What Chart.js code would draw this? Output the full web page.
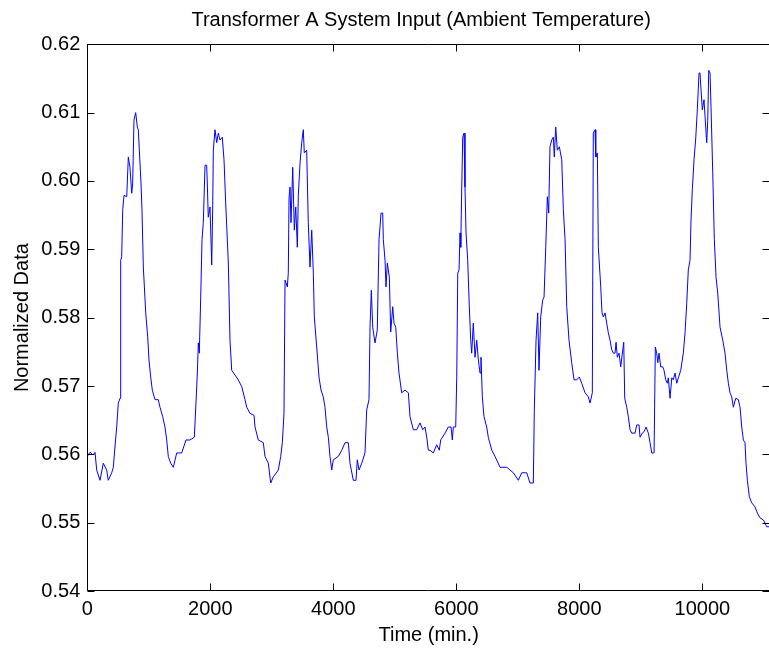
<!DOCTYPE html>
<html>
<head>
<meta charset="utf-8">
<script src="https://cdn.jsdelivr.net/npm/chart.js@4.4.1/dist/chart.umd.min.js"></script>
<style>
  html, body { margin: 0; padding: 0; background: #fff; overflow: hidden; }
  #wrap { width: 775px; height: 651px; }
</style>
</head>
<body>
<div id="wrap"><canvas id="myChart" width="775" height="651"></canvas></div>
<script>
const chartTitle = "Transformer A System Input (Ambient Temperature)"
const xTitle = "Time (min.)"
const yTitle = "Normalized Data"

const xTicks = [0, 2000, 4000, 6000, 8000, 10000]
const yTicks = [0.54, 0.55, 0.56, 0.57, 0.58, 0.59, 0.6, 0.61, 0.62]

// time (min.) and normalized value
const times = [
  0, 44, 93, 125, 153, 207, 260, 315, 341, 397,
  423, 450, 478, 504, 532, 543, 559, 576, 597, 641,
  667, 694, 722, 738, 759, 787, 813, 829, 846, 873,
  889, 911, 950, 982, 1003, 1031, 1057, 1101, 1154, 1182,
  1226, 1263, 1291, 1317, 1356, 1398, 1454, 1535, 1605, 1670,
  1740, 1767, 1789, 1805, 1821, 1844, 1865, 1886, 1914, 1941,
  1951, 1967, 1995, 2023, 2039, 2049, 2076, 2104, 2130, 2158,
  2195, 2223, 2250, 2293, 2320, 2348, 2402, 2455, 2511, 2564,
  2592, 2645, 2711, 2727, 2780, 2862, 2889, 2943, 2982, 3024,
  3106, 3145, 3171, 3198, 3215, 3252, 3268, 3280, 3296, 3312,
  3340, 3366, 3389, 3415, 3431, 3459, 3486, 3512, 3528, 3567,
  3593, 3621, 3649, 3675, 3691, 3730, 3767, 3800, 3837, 3865,
  3893, 3919, 3946, 3974, 4000, 4081, 4137, 4190, 4244, 4271,
  4325, 4369, 4390, 4418, 4462, 4515, 4543, 4580, 4597, 4618,
  4641, 4678, 4715, 4743, 4776, 4803, 4813, 4841, 4857, 4878,
  4911, 4933, 4966, 4987, 5015, 5041, 5068, 5112, 5166, 5220,
  5247, 5301, 5356, 5410, 5454, 5491, 5519, 5545, 5572, 5626,
  5681, 5723, 5746, 5816, 5870, 5914, 5935, 5951, 5990, 6007,
  6023, 6044, 6060, 6072, 6088, 6104, 6125, 6141, 6158, 6185,
  6211, 6234, 6250, 6276, 6304, 6332, 6358, 6385, 6401, 6423,
  6450, 6494, 6520, 6576, 6629, 6711, 6820, 6873, 6927, 7008,
  7063, 7145, 7198, 7252, 7268, 7296, 7323, 7344, 7372, 7405,
  7426, 7454, 7480, 7502, 7523, 7551, 7577, 7593, 7616, 7642,
  7675, 7714, 7740, 7768, 7795, 7832, 7876, 7914, 7958, 8000,
  8039, 8093, 8146, 8174, 8211, 8227, 8255, 8267, 8293, 8309,
  8348, 8369, 8390, 8418, 8445, 8471, 8499, 8527, 8553, 8580,
  8597, 8618, 8646, 8673, 8706, 8722, 8738, 8771, 8797, 8824,
  8852, 8906, 8933, 8971, 8987, 9024, 9052, 9085, 9122, 9150,
  9177, 9215, 9236, 9258, 9275, 9296, 9323, 9356, 9377, 9405,
  9431, 9447, 9475, 9503, 9528, 9556, 9584, 9610, 9649, 9691,
  9719, 9746, 9772, 9800, 9816, 9837, 9865, 9893, 9918, 9946,
  9962, 9979, 10000, 10027, 10044, 10071, 10088, 10104, 10125, 10141,
  10169, 10195, 10223, 10250, 10288, 10332, 10369, 10397, 10423, 10450,
  10478, 10504, 10543, 10585, 10613, 10640, 10667, 10694, 10710, 10732,
  10764, 10803, 10857, 10894, 10938, 10992, 11047, 11084
]
const values = [
  0.5597, 0.5603, 0.5599, 0.5603, 0.5577, 0.5562, 0.5587, 0.5577, 0.5562, 0.5573,
  0.5581, 0.5611, 0.5640, 0.5675, 0.5682, 0.5884, 0.5889, 0.5958, 0.5979, 0.5977,
  0.6035, 0.6020, 0.5982, 0.5997, 0.6089, 0.6100, 0.6079, 0.6075, 0.6045, 0.5997,
  0.5958, 0.5874, 0.5807, 0.5772, 0.5738, 0.5713, 0.5694, 0.5680, 0.5680, 0.5669,
  0.5655, 0.5640, 0.5621, 0.5597, 0.5587, 0.5581, 0.5602, 0.5602, 0.5621, 0.5621,
  0.5625, 0.5675, 0.5719, 0.5763, 0.5748, 0.5830, 0.5914, 0.5939, 0.6023, 0.6023,
  0.5997, 0.5947, 0.5962, 0.5877, 0.5962, 0.6045, 0.6075, 0.6056, 0.6070, 0.6060,
  0.6064, 0.6031, 0.5968, 0.5880, 0.5767, 0.5723, 0.5716, 0.5709, 0.5699, 0.5680,
  0.5669, 0.5660, 0.5657, 0.5640, 0.5621, 0.5617, 0.5597, 0.5587, 0.5558, 0.5567,
  0.5577, 0.5597, 0.5617, 0.5660, 0.5855, 0.5845, 0.5865, 0.5975, 0.5991, 0.5939,
  0.6020, 0.5928, 0.5962, 0.5903, 0.5979, 0.6026, 0.6056, 0.6075, 0.6041, 0.6045,
  0.5939, 0.5874, 0.5928, 0.5865, 0.5801, 0.5757, 0.5713, 0.5694, 0.5684, 0.5669,
  0.5640, 0.5625, 0.5597, 0.5577, 0.5592, 0.5597, 0.5606, 0.5617, 0.5617, 0.5587,
  0.5562, 0.5562, 0.5592, 0.5577, 0.5587, 0.5602, 0.5665, 0.5680, 0.5786, 0.5840,
  0.5786, 0.5763, 0.5782, 0.5914, 0.5953, 0.5953, 0.5914, 0.5884, 0.5845, 0.5880,
  0.5859, 0.5779, 0.5816, 0.5792, 0.5786, 0.5748, 0.5719, 0.5690, 0.5694, 0.5690,
  0.5655, 0.5636, 0.5636, 0.5646, 0.5636, 0.5640, 0.5625, 0.5606, 0.5606, 0.5602,
  0.5614, 0.5606, 0.5621, 0.5631, 0.5640, 0.5640, 0.5621, 0.5640, 0.5640, 0.5713,
  0.5865, 0.5870, 0.5924, 0.5903, 0.5991, 0.6064, 0.6070, 0.5991, 0.5924, 0.5884,
  0.5816, 0.5767, 0.5748, 0.5792, 0.5742, 0.5767, 0.5738, 0.5719, 0.5742, 0.5684,
  0.5655, 0.5640, 0.5625, 0.5606, 0.5597, 0.5581, 0.5581, 0.5577, 0.5573, 0.5562,
  0.5573, 0.5573, 0.5558, 0.5558, 0.5665, 0.5767, 0.5807, 0.5723, 0.5801, 0.5826,
  0.5830, 0.5903, 0.5977, 0.5953, 0.6050, 0.6060, 0.6064, 0.6035, 0.6079, 0.6045,
  0.6050, 0.6031, 0.5958, 0.5914, 0.5816, 0.5767, 0.5734, 0.5709, 0.5709, 0.5713,
  0.5704, 0.5690, 0.5684, 0.5675, 0.5690, 0.6070, 0.6075, 0.6035, 0.6041, 0.5903,
  0.5845, 0.5807, 0.5801, 0.5807, 0.5792, 0.5778, 0.5767, 0.5753, 0.5748, 0.5748,
  0.5764, 0.5742, 0.5748, 0.5728, 0.5753, 0.5764, 0.5682, 0.5669, 0.5655, 0.5636,
  0.5631, 0.5631, 0.5643, 0.5643, 0.5625, 0.5631, 0.5633, 0.5640, 0.5631, 0.5617,
  0.5602, 0.5602, 0.5757, 0.5748, 0.5734, 0.5748, 0.5728, 0.5728, 0.5723, 0.5709,
  0.5704, 0.5712, 0.5682, 0.5712, 0.5709, 0.5719, 0.5704, 0.5712, 0.5723, 0.5748,
  0.5778, 0.5821, 0.5870, 0.5884, 0.5943, 0.5987, 0.6031, 0.6063, 0.6104, 0.6158,
  0.6158, 0.6133, 0.6104, 0.6119, 0.6094, 0.6056, 0.6089, 0.6162, 0.6158, 0.6108,
  0.6012, 0.5914, 0.5859, 0.5836, 0.5786, 0.5767, 0.5748, 0.5723, 0.5704, 0.5690,
  0.5684, 0.5669, 0.5682, 0.5680, 0.5669, 0.5640, 0.5621, 0.5617, 0.5587, 0.5562,
  0.5538, 0.5529, 0.5523, 0.5514, 0.5507, 0.5504, 0.5494, 0.5494
]

if (times.length !== values.length) console.error("length mismatch", times.length, values.length)

const points = times.map((t, i) => ({ x: t, y: values[i] }))

// matlab style box with inward ticks
const boxPlugin = {
  id: 'box',
  afterLayout(chart) {
    // centre the title over the axes like matlab does
    const tb = chart.titleBlock
    if (tb) { tb.left = chart.chartArea.left; tb.right = 755 }
  },
  afterDraw(chart) {
    const ctx = chart.ctx
    const a = chart.chartArea
    const xs = chart.scales.x
    const ys = chart.scales.y
    const L = Math.round(a.left) + 0.5
    const R = Math.round(a.right) - 0.5
    const T = Math.round(a.top) + 0.5
    const B = Math.round(a.bottom) - 0.5
    const len = 7
    ctx.save()
    ctx.strokeStyle = '#000'
    ctx.lineWidth = 1
    ctx.beginPath()
    ctx.rect(L, T, R - L, B - T)
    xTicks.forEach(v => {
      const px = Math.round(xs.getPixelForValue(v)) + 0.5
      ctx.moveTo(px, B); ctx.lineTo(px, B - len)
      ctx.moveTo(px, T); ctx.lineTo(px, T + len)
    })
    yTicks.forEach(v => {
      const py = Math.round(ys.getPixelForValue(v)) + 0.5
      ctx.moveTo(L, py); ctx.lineTo(L + len, py)
      ctx.moveTo(R, py); ctx.lineTo(R - len, py)
    })
    ctx.stroke()
    ctx.restore()
  }
}

Chart.defaults.font.family = '"Liberation Sans", Arial, Helvetica, sans-serif'
Chart.defaults.font.size = 20
Chart.defaults.color = '#000'

const config = {
  type: 'line',
  data: {
    datasets: [{
      data: points,
      borderColor: 'rgb(0,0,255)',
      borderWidth: 1,
      pointRadius: 0,
      tension: 0,
      fill: false
    }]
  },
  options: {
    responsive: false,
    animation: false,
    layout: { padding: { left: 0, right: 5, top: 0, bottom: 0 } },
    plugins: {
      legend: { display: false },
      tooltip: { enabled: false },
      title: {
        display: true,
        text: chartTitle,
        color: '#000',
        font: { size: 20, weight: 'normal', lineHeight: 1.2 },
        padding: { top: 8, bottom: 12.3 }
      }
    },
    scales: {
      x: {
        type: 'linear',
        min: 0,
        max: 11100,
        grid: { display: false, drawTicks: false },
        border: { display: false },
        ticks: { stepSize: 2000, padding: 6, maxRotation: 0, autoSkip: false, callback: v => String(v) },
        afterBuildTicks: s => { s.ticks = xTicks.map(v => ({ value: v })) },
        afterFit: s => { s.height = 60 },
        title: { display: true, text: xTitle, padding: { top: 4, bottom: 4 } }
      },
      y: {
        min: 0.54,
        max: 0.62,
        grid: { display: false, drawTicks: false },
        border: { display: false },
        ticks: {
          stepSize: 0.01,
          padding: 7,
          autoSkip: false,
          callback: v => Number(v).toFixed(2)
        },
        afterBuildTicks: s => { s.ticks = yTicks.map(v => ({ value: v })) },
        afterFit: s => { s.width = 87.3 },
        title: { display: true, text: yTitle, padding: { top: 10, bottom: 10 } }
      }
    }
  },
  plugins: [boxPlugin]
}

let myChart = new Chart(document.getElementById('myChart'), config)
</script>
</body>
</html>
